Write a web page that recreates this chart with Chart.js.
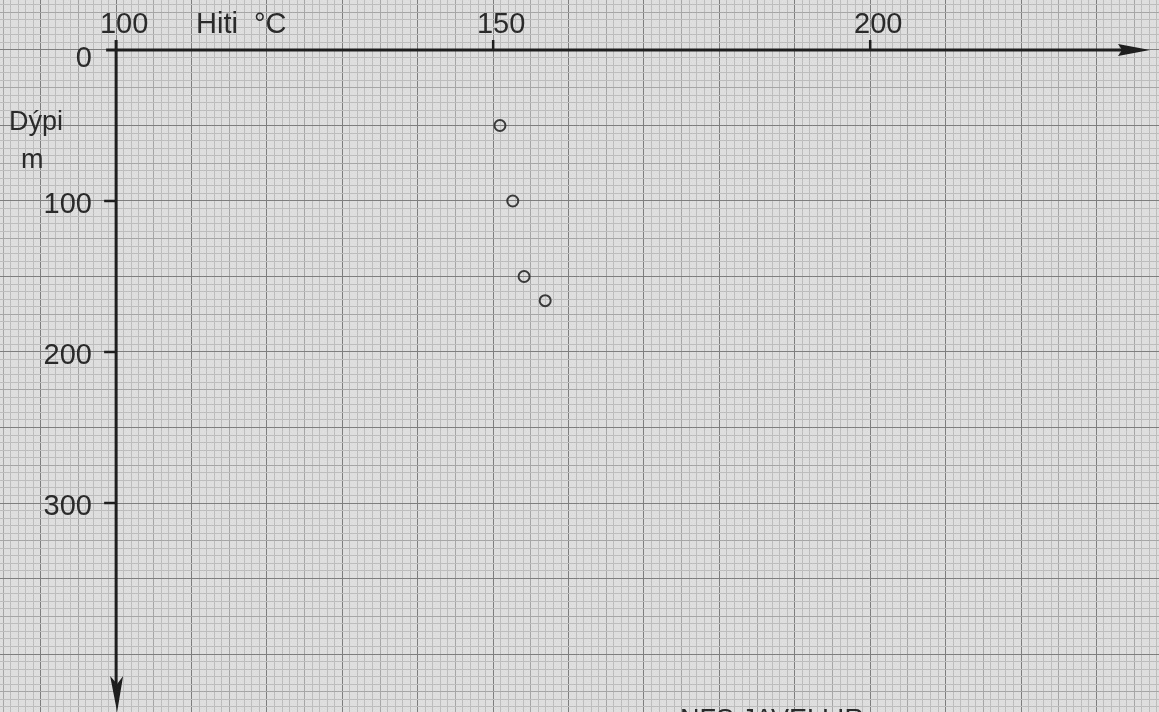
<!DOCTYPE html>
<html><head><meta charset="utf-8">
<script src="https://cdn.jsdelivr.net/npm/chart.js@4"></script>
<style>html,body{margin:0;padding:0;background:#dedede;}#wrap{width:1159px;height:712px;}</style>
</head><body><div id="wrap"><canvas id="c" width="1159" height="712"></canvas></div>
<script>
// Data
const temperature = [150.9, 152.6, 154.1, 156.9]; // Hiti °C
const depth = [50, 100, 150, 166];               // Dýpi m
const xTickLabels = [100, 150, 200];
const yTickLabels = [0, 100, 200, 300];
const xTitle = 'Hiti  °C';
const yTitle = ['Dýpi', 'm'];
const footerText = 'NFS JAVELLIR';

const pts = temperature.map((t, i) => ({x: t, y: depth[i]}));

function xGridColor(ctx){
  const v = Math.round(ctx.tick.value);
  if (v % 10 === 0) return '#7e7e7e';
  if (v % 5 === 0) return '#a6a6a6';
  return '#bdbdbd';
}
function yGridColor(ctx){
  const v = Math.round(ctx.tick.value);
  if (v % 50 === 0) return '#7e7e7e';
  if (v % 25 === 0) return '#a6a6a6';
  return '#bdbdbd';
}

const paper = {
  id: 'paper',
  beforeDraw(chart){
    const c = chart.ctx;
    c.save();
    c.fillStyle = '#dedede';
    c.fillRect(0, 0, chart.width, chart.height);
    c.restore();
  },
  afterDatasetsDraw(chart){
    const c = chart.ctx, xs = chart.scales.x, ys = chart.scales.y;
    const x0 = xs.getPixelForValue(100), y0 = ys.getPixelForValue(0);
    c.save();
    c.strokeStyle = '#1e1e1e'; c.fillStyle = '#1e1e1e';
    c.lineWidth = 3; c.lineCap = 'butt';
    // x axis
    c.beginPath(); c.moveTo(x0 - 10, y0); c.lineTo(1128, y0); c.stroke();
    c.beginPath(); c.moveTo(1150, y0); c.lineTo(1118, y0 - 6); c.lineTo(1122, y0); c.lineTo(1118, y0 + 6); c.closePath(); c.fill();
    // y axis
    c.beginPath(); c.moveTo(x0, y0 - 10); c.lineTo(x0, 690); c.stroke();
    c.beginPath(); c.moveTo(x0 + 1, 712); c.lineTo(x0 - 6, 676); c.lineTo(x0 + 1, 684); c.lineTo(x0 + 7, 676); c.closePath(); c.fill();
    // ticks
    c.lineWidth = 2.5;
    xTickLabels.forEach(v => {
      if (v === 100) return;
      const px = xs.getPixelForValue(v);
      c.beginPath(); c.moveTo(px, y0); c.lineTo(px, y0 - 10); c.stroke();
    });
    yTickLabels.forEach(v => {
      if (v === 0) return;
      const py = ys.getPixelForValue(v);
      c.beginPath(); c.moveTo(x0, py); c.lineTo(x0 - 12, py); c.stroke();
    });
    // labels
    c.fillStyle = '#2a2a2a';
    c.font = '29px "Liberation Sans", Arial, sans-serif';
    c.textBaseline = 'alphabetic';
    c.textAlign = 'center';
    xTickLabels.forEach(v => {
      c.fillText(String(v), xs.getPixelForValue(v) + 8, 33);
    });
    c.textAlign = 'left';
    c.fillText(xTitle, 196, 33);
    c.textAlign = 'right';
    yTickLabels.forEach(v => {
      c.fillText(String(v), 92, ys.getPixelForValue(v) + (v === 0 ? 17 : 12));
    });
    c.textAlign = 'left';
    c.font = '27px "Liberation Sans", Arial, sans-serif';
    c.fillText(yTitle[0], 9, 130);
    c.fillText(yTitle[1], 21, 168);
    c.font = '27px "Liberation Sans", Arial, sans-serif';
    c.fillText(footerText, 680, 728);
    c.restore();
  }
};

new Chart(document.getElementById('c'), {
  type: 'scatter',
  data: { datasets: [{
    data: pts,
    pointStyle: 'circle',
    pointRadius: 5.5,
    pointBorderWidth: 2,
    pointBorderColor: '#3a3a3a',
    pointBackgroundColor: 'rgba(0,0,0,0)',
    showLine: false,
    clip: false
  }]},
  options: {
    responsive: false,
    animation: false,
    devicePixelRatio: 1,
    layout: { padding: 0, autoPadding: false },
    plugins: { legend: { display: false }, tooltip: { enabled: false } },
    scales: {
      x: {
        type: 'linear', position: 'top',
        min: 84.6, max: 238.3,
        afterBuildTicks(scale){ const t=[]; for(let v=85; v<=238; v++) t.push({value:v}); scale.ticks = t; },
        ticks: { display: false },
        border: { display: false },
        grid: { color: xGridColor, lineWidth: 1, drawTicks: false, tickLength: 0 }
      },
      y: {
        type: 'linear', reverse: true,
        min: -33.1, max: 438.4,
        afterBuildTicks(scale){ const t=[]; for(let v=-30; v<=435; v+=5) t.push({value:v}); scale.ticks = t; },
        ticks: { display: false },
        border: { display: false },
        grid: { color: yGridColor, lineWidth: 1, drawTicks: false, tickLength: 0 }
      }
    }
  },
  plugins: [paper]
});
</script>
</body></html>
